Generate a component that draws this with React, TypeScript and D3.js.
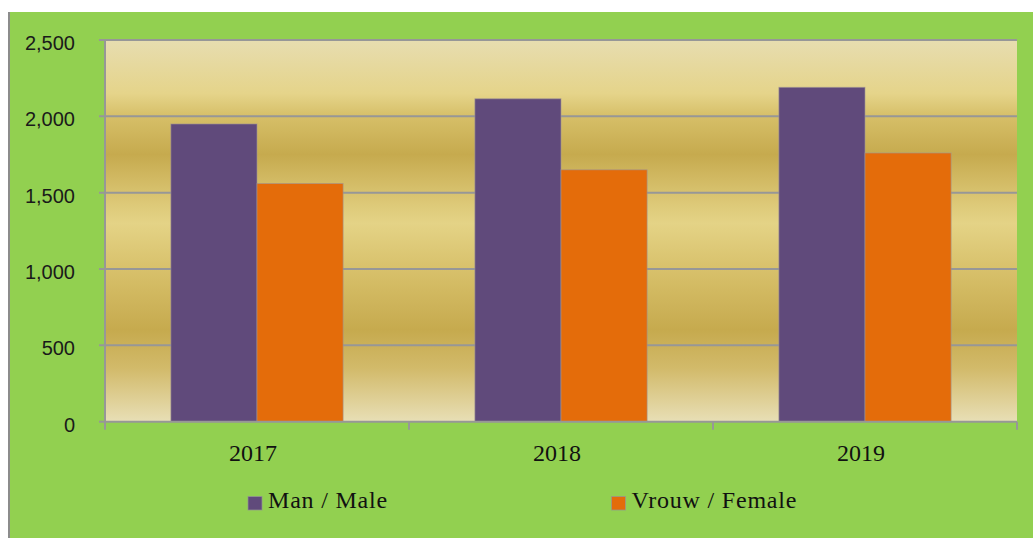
import React from "react";
import * as d3 from "d3";

const years = ["2017", "2018", "2019"];
const seriesNames = ["Man / Male", "Vrouw / Female"];
const maleValues = [1950, 2115, 2190];
const femaleValues = [1560, 1650, 1760];
const yTicks = [0, 500, 1000, 1500, 2000, 2500];
const seriesColors = ["#604a7b", "#e46c0a"];

const W = 1033;
const H = 538;
const plot = { left: 105, right: 1017, top: 40, bottom: 421.7 };

export default function App() {
  const x0 = d3.scaleBand<string>().domain(years).range([plot.left, plot.right]).padding(0);
  const x1 = d3
    .scaleBand<string>()
    .domain(seriesNames)
    .range([0, x0.bandwidth()])
    .paddingInner(0)
    .paddingOuter(0.765);
  const y = d3.scaleLinear().domain([0, 2500]).range([plot.bottom, plot.top]);
  const fmt = d3.format(",");
  const seriesValues = [maleValues, femaleValues];

  const stops: [number, string][] = [
    [0, "#e7ddb0"],
    [0.14, "#e5d48a"],
    [0.2, "#d6bf68"],
    [0.3, "#c6aa4e"],
    [0.43, "#ddc978"],
    [0.48, "#e4d386"],
    [0.6, "#d8c16b"],
    [0.76, "#c6aa4e"],
    [0.86, "#d2ba6a"],
    [1, "#e8dfb6"],
  ];

  const boundaries = [...years.map((yr) => x0(yr)!), plot.right];

  return (
    <div style={{ position: "absolute", left: 0, top: 0 }}>
      <svg width={W} height={H} style={{ display: "block" }}>
        <defs>
          <linearGradient id="bg" x1="0" y1="0" x2="0" y2="1">
            {stops.map(([o, c], i) => (
              <stop key={i} offset={o} stopColor={c} />
            ))}
          </linearGradient>
        </defs>
        <rect x={0} y={0} width={W} height={H} fill="#ffffff" />
        <rect x={9} y={12} width={W - 9} height={H - 12} fill="#92d050" />
        <line x1={9} y1={12} x2={9} y2={H} stroke="#8c8c8c" strokeWidth={2} />
        <rect
          x={plot.left}
          y={plot.top}
          width={plot.right - plot.left}
          height={plot.bottom - plot.top}
          fill="url(#bg)"
        />
        {yTicks.map((t) => (
          <g key={t}>
            <line
              x1={plot.left - 6}
              x2={t === 0 ? plot.left : plot.right}
              y1={y(t)}
              y2={y(t)}
              stroke="#979797"
              strokeWidth={2}
            />
            <text
              x={75}
              y={y(t) + 3}
              dy="0.35em"
              textAnchor="end"
              fontFamily="'Liberation Sans', Arial, sans-serif"
              fontSize={20}
              fill="#1a1a1a"
            >
              {fmt(t)}
            </text>
          </g>
        ))}
        {years.map((yr, i) =>
          seriesNames.map((s, j) => {
            const v = seriesValues[j][i];
            return (
              <rect
                key={yr + s}
                x={x0(yr)! + x1(s)!}
                y={y(v)}
                width={x1.bandwidth()}
                height={y(0) - y(v)}
                fill={seriesColors[j]}
                stroke="rgba(160,150,150,0.6)"
                strokeWidth={1}
              />
            );
          })
        )}
        <line x1={plot.left} x2={plot.left} y1={plot.top} y2={plot.bottom + 6} stroke="#979797" strokeWidth={2} />
        <line x1={plot.left} x2={plot.right} y1={plot.bottom} y2={plot.bottom} stroke="#979797" strokeWidth={2} />
        {boundaries.map((bx, i) => (
          <line key={i} x1={bx} x2={bx} y1={plot.bottom} y2={plot.bottom + 8} stroke="#979797" strokeWidth={2} />
        ))}
        {years.map((yr) => (
          <text
            key={yr}
            x={x0(yr)! + x0.bandwidth() / 2 - 4}
            y={460.5}
            textAnchor="middle"
            fontFamily="'Liberation Serif', 'Times New Roman', serif"
            fontSize={24}
            fill="#111"
          >
            {yr}
          </text>
        ))}
        {seriesNames.map((s, j) => {
          const lx = [248, 611.5][j];
          return (
            <g key={s}>
              <rect x={lx} y={496.5} width={14} height={13.5} fill={seriesColors[j]} stroke="rgba(150,150,150,0.7)" strokeWidth={1} />
              <text
                x={lx + 20}
                y={507.5}
                fontFamily="'Liberation Serif', 'Times New Roman', serif"
                fontSize={24}
                letterSpacing={0.8}
                fill="#111"
              >
                {s}
              </text>
            </g>
          );
        })}
      </svg>
    </div>
  );
}
